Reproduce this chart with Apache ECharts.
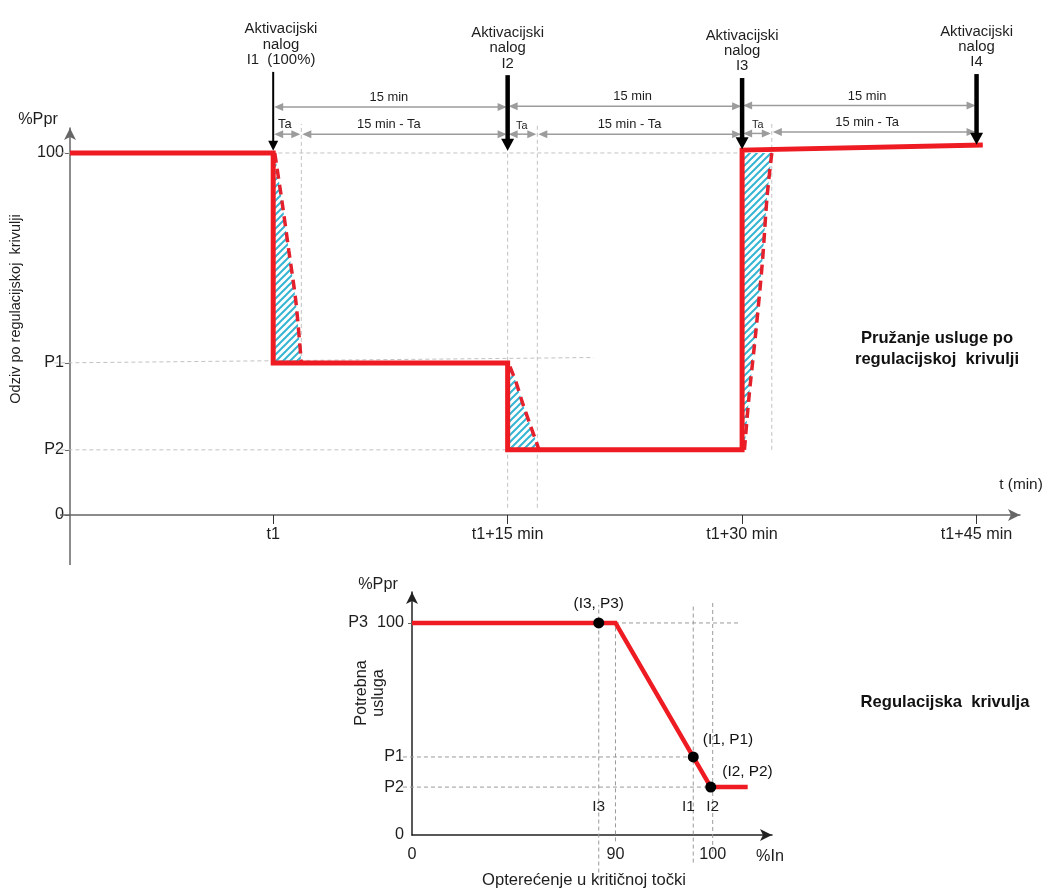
<!DOCTYPE html>
<html><head><meta charset="utf-8">
<script src="https://cdn.jsdelivr.net/npm/echarts@6/dist/echarts.min.js"></script>
<style>html,body{margin:0;padding:0;background:#fff}#c{width:1047px;height:895px}</style>
</head><body><div id="c"></div><script>
// ---------------- DATA: upper chart (time in minutes after t1) ----------------
const timeTickValues = [0, 15, 30, 45];
const timeTickLabels = ['t1', 't1+15 min', 't1+30 min', 't1+45 min'];
const respTickValues = [0, 18, 42, 100];
const respTickLabels = ['0', 'P2', 'P1', '100'];
const respTime  = [-13, 0, 0, 15, 15, 30, 30, 45.4];
const respValue = [100, 100, 42, 42, 18, 18, 100.8, 102.2];
const ramp1Time  = [0.1, 0.55, 1.0, 1.45, 1.8];
const ramp1Value = [100, 87, 73, 59, 42];
const ramp2Time  = [15.15, 15.55, 15.95, 16.4, 16.85, 17.0];
const ramp2Value = [41, 36.5, 31, 25.4, 20, 18];
const ramp3Time  = [30.15, 30.45, 30.9, 31.3, 31.6, 31.9];
const ramp3Value = [18, 33, 51.5, 70, 88, 100];
const stepTime = [0, 15, 30];
const stepFrom = [100, 42, 18];
const stepTo   = [42, 18, 100];
const orderTime  = [0, 15, 30, 45];
const orderTop   = [122.4, 121.5, 120.7, 121.8];
const orderTip   = [100.6, 100.6, 101, 102.3];
const orderLabelTime = [0.5, 15, 30, 45];
const orderLabels = ['Aktivacijski\nnalog\nI1  (100%)', 'Aktivacijski\nnalog\nI2', 'Aktivacijski\nnalog\nI3', 'Aktivacijski\nnalog\nI4'];
const dimStart = [0, 15, 30, 0, 1.8, 15, 16.9, 30, 31.9];
const dimEnd   = [15, 30, 45, 1.8, 15, 16.9, 30, 31.9, 45];
const dimLevel = [112.7, 112.9, 113.1, 105.2, 105.2, 105.2, 105.2, 105.4, 105.8];
const dimLabelTime = [7.4, 23.0, 38.0, 0.75, 7.4, 15.9, 22.8, 31.0, 38.0];
const dimLabels = ['15 min', '15 min', '15 min', 'Ta', '15 min - Ta', 'Ta', '15 min - Ta', 'Ta', '15 min - Ta'];
const topGuideX1 = [-14, -14, -14, 1.8, 15, 16.9, 31.9];
const topGuideY1 = [100, 42, 18, 42, 2, 2, 18];
const topGuideX2 = [30, 20.5, 15, 1.8, 15, 16.9, 31.9];
const topGuideY2 = [100, 43.5, 18, 108, 108, 108, 108];
// axis-line extensions of the upper chart (below / left of the origin)
const axisExtX1 = [-13, -13.64];
const axisExtY1 = [0, 0];
const axisExtX2 = [-13, -13];
const axisExtY2 = [-13.8, 0];

// ---------------- DATA: lower chart (regulation curve) ----------------
const loadTickValues = [0, 90, 100];
const loadTickLabels = ['0', '90', '100'];
const reqTickValues = [0, 22.6, 36.8, 100];
const reqTickLabels = ['0', 'P2', 'P1', 'P3  100'];
const curveLoad = [0, 90, 99.8, 103.6];
const curveReq  = [100, 100, 22.6, 22.6];
const pointLoad = [82.6, 98.0, 99.8];
const pointReq  = [100, 36.8, 22.6];
const pointLabels = ['(I3, P3)', '(I1, P1)', '(I2, P2)'];
const pointTickLoad = [82.6, 97.5, 100];
const pointTickLabels = ['I3', 'I1', 'I2'];
const botGuideX1 = [0, -4, -4, 82.6, 90, 98, 100];
const botGuideY1 = [100, 36.8, 22.6, -21, -3, -13, -8];
const botGuideX2 = [102.7, 98, 99.8, 82.6, 90, 98, 100];
const botGuideY2 = [100, 36.8, 22.6, 108.5, 100, 109, 110];

// axis scale of the lower chart: range 0..90 is drawn compressed
const LOAD_BREAK = 90, LOW_SCALE = 20.93 / 90;
function loadPos(v) { return v <= LOAD_BREAK ? v * LOW_SCALE : LOAD_BREAK * LOW_SCALE + (v - LOAD_BREAK); }

// ---------------- fonts ----------------
function fontAvailable(name) {
  const ctx = document.createElement('canvas').getContext('2d');
  const s = 'Aktivacijski nalog 0123';
  ctx.font = '40px monospace'; const a = ctx.measureText(s).width;
  ctx.font = '40px ' + name + ', monospace'; const b = ctx.measureText(s).width;
  return Math.abs(a - b) > 1;
}
const NARROW = fontAvailable("'Liberation Sans Narrow'");
const FAMILY = NARROW ? "'Liberation Sans Narrow', 'Liberation Sans', sans-serif" : "'Liberation Sans', Arial, sans-serif";
const K = NARROW ? 1 : 0.83;
const fs = n => Math.round(n * K * 10) / 10;
const TXT = '#1e1e1e';
const font = (n, bold) => (bold ? 'bold ' : '') + fs(n) + 'px ' + FAMILY;

// ---------------- helpers ----------------
const zip = (a, b) => a.map((v, i) => [v, b[i]]);
const lookup = (vals, labels) => v => { const i = vals.findIndex(x => Math.abs(x - v) < 1e-6); return i < 0 ? '' : labels[i]; };
function makeHatch() {
  const c = document.createElement('canvas'); c.width = 7; c.height = 7;
  const g = c.getContext('2d');
  g.strokeStyle = '#35b5d2'; g.lineWidth = 2;
  g.beginPath();
  g.moveTo(-1, 8); g.lineTo(8, -1);
  g.moveTo(-1, 1); g.lineTo(1, -1);
  g.moveTo(6, 8); g.lineTo(8, 6);
  g.stroke();
  return c;
}
const hatch = makeHatch();
function segRenderer(color, width, dash) {
  return (params, api) => {
    const a = api.coord([api.value(0), api.value(1)]);
    const b = api.coord([api.value(2), api.value(3)]);
    return { type: 'line', shape: { x1: a[0], y1: a[1], x2: b[0], y2: b[1] },
      style: { stroke: color, lineWidth: width, lineDash: dash } };
  };
}
const ramps = [zip(ramp1Time, ramp1Value), zip(ramp2Time, ramp2Value), zip(ramp3Time, ramp3Value)];

const RED = '#ee1b22';
const series = [];
// axis extensions
series.push({ type: 'custom', xAxisIndex: 0, yAxisIndex: 0, z: 1, silent: true,
  data: axisExtX1.map((x, i) => [x, axisExtY1[i], axisExtX2[i], axisExtY2[i]]),
  renderItem: segRenderer('#666', 1.5, null) });
// upper guides
series.push({ type: 'custom', xAxisIndex: 0, yAxisIndex: 0, z: 1, silent: true,
  data: topGuideX1.map((x, i) => [x, topGuideY1[i], topGuideX2[i], topGuideY2[i]]),
  renderItem: segRenderer('#c2c2c2', 1, [4, 3]) });
// hatched areas
series.push({ type: 'custom', xAxisIndex: 0, yAxisIndex: 0, z: 2, silent: true,
  data: stepTime.map((t, i) => [t, stepFrom[i], stepTo[i]]),
  renderItem: (params, api) => {
    const i = params.dataIndex;
    const pts = [[api.value(0), api.value(1)]].concat(ramps[i]).concat([[api.value(0), api.value(2)]]);
    return { type: 'polygon', shape: { points: pts.map(p => api.coord(p)) },
      style: { fill: { image: hatch, repeat: 'repeat' } } };
  } });
// dashed ramps
ramps.forEach(r => series.push({ type: 'line', xAxisIndex: 0, yAxisIndex: 0, z: 3, data: r, symbol: 'none', smooth: 0.3,
  lineStyle: { color: '#e3202c', width: 3.5, type: [10, 6] } }));
// response
series.push({ type: 'line', xAxisIndex: 0, yAxisIndex: 0, z: 4, data: zip(respTime, respValue), symbol: 'none',
  lineStyle: { color: RED, width: 5, join: 'miter' } });
// dimension arrows
series.push({ type: 'custom', xAxisIndex: 0, yAxisIndex: 0, z: 5, silent: true,
  data: dimStart.map((s, i) => [s, dimEnd[i], dimLevel[i], dimLabelTime[i]]),
  renderItem: (params, api) => {
    const i = params.dataIndex;
    const a = api.coord([api.value(0), api.value(2)]);
    const b = api.coord([api.value(1), api.value(2)]);
    const lx = api.coord([api.value(3), api.value(2)])[0];
    const h = 9, w = 4, col = '#9c9c9c';
    const small = dimLabels[i] === 'Ta' && i > 3;
    return { type: 'group', children: [
      { type: 'line', shape: { x1: a[0] + 3, y1: a[1], x2: b[0] - 3, y2: b[1] }, style: { stroke: col, lineWidth: 1.5 } },
      { type: 'polygon', shape: { points: [[a[0] + 1, a[1]], [a[0] + 1 + h, a[1] - w], [a[0] + 1 + h, a[1] + w]] }, style: { fill: col } },
      { type: 'polygon', shape: { points: [[b[0] - 1, b[1]], [b[0] - 1 - h, b[1] - w], [b[0] - 1 - h, b[1] + w]] }, style: { fill: col } },
      { type: 'text', x: lx, y: a[1] - 3, style: { text: dimLabels[i], fill: TXT, font: font(small ? 13 : 15.5), align: 'center', verticalAlign: 'bottom' } }
    ] };
  } });
// activation orders
series.push({ type: 'custom', xAxisIndex: 0, yAxisIndex: 0, z: 6, silent: true,
  data: orderTime.map((t, i) => [t, orderTop[i], orderTip[i], orderLabelTime[i]]),
  renderItem: (params, api) => {
    const i = params.dataIndex;
    const top = api.coord([api.value(0), api.value(1)]);
    const tip = api.coord([api.value(0), api.value(2)]);
    const lx = api.coord([api.value(3), api.value(1)])[0];
    const thin = i === 0;
    const hl = thin ? 10 : 12, hw = thin ? 5 : 6.5;
    return { type: 'group', children: [
      { type: 'line', shape: { x1: top[0], y1: top[1], x2: tip[0], y2: tip[1] - hl + 1 }, style: { stroke: '#000', lineWidth: thin ? 2 : 4.5 } },
      { type: 'polygon', shape: { points: [[tip[0], tip[1]], [tip[0] - hw, tip[1] - hl], [tip[0] + hw, tip[1] - hl]] }, style: { fill: '#000' } },
      { type: 'text', x: lx, y: top[1] - 4, style: { text: orderLabels[i], fill: TXT, font: font(18), lineHeight: fs(18.5), align: 'center', verticalAlign: 'bottom' } }
    ] };
  } });

// lower guides
series.push({ type: 'custom', xAxisIndex: 1, yAxisIndex: 1, z: 1, silent: true,
  data: botGuideX1.map((x, i) => [loadPos(x), botGuideY1[i], loadPos(botGuideX2[i]), botGuideY2[i]]),
  renderItem: segRenderer('#9a9a9a', 1, [4, 3]) });
series.push({ type: 'line', xAxisIndex: 1, yAxisIndex: 1, z: 4, data: curveLoad.map((v, i) => [loadPos(v), curveReq[i]]), symbol: 'none',
  lineStyle: { color: RED, width: 4.5, join: 'miter' } });
const pointLabelCfg = [
  { position: 'top', distance: 6 },
  { position: 'right', distance: 4, offset: [0, -17] },
  { position: 'right', distance: 6, offset: [0, -15] }
];
series.push({ type: 'scatter', xAxisIndex: 1, yAxisIndex: 1, z: 6, symbolSize: 11,
  itemStyle: { color: '#000', opacity: 1 },
  data: pointLoad.map((v, i) => ({ value: [loadPos(v), pointReq[i]],
    label: Object.assign({ show: true, formatter: pointLabels[i], color: '#111', opacity: 1, fontFamily: FAMILY, fontSize: fs(18.5) }, pointLabelCfg[i]) })) });
series.push({ type: 'custom', xAxisIndex: 1, yAxisIndex: 1, z: 5, silent: true,
  data: pointTickLoad.map(v => [loadPos(v), 13.2]),
  renderItem: (params, api) => {
    const p = api.coord([api.value(0), api.value(1)]);
    return { type: 'text', x: p[0], y: p[1], style: { text: pointTickLabels[params.dataIndex], fill: TXT, font: font(18.5), align: 'center', verticalAlign: 'middle' } };
  } });

const axisText = { color: TXT, fontFamily: FAMILY, fontSize: fs(19.5) };
const chart = echarts.init(document.getElementById('c'), null, { renderer: 'canvas' });
chart.setOption({
  animation: false,
  backgroundColor: '#fff',
  grid: [
    { left: 70, right: 27, top: 128, bottom: 380 },
    { left: 412, right: 275, top: 592, bottom: 60 }
  ],
  xAxis: [
    { gridIndex: 0, type: 'value', min: -13, max: 47.78, splitLine: { show: false },
      axisLine: { show: true, onZero: false, symbol: ['none', 'arrow'], symbolSize: [9, 12], lineStyle: { color: '#666', width: 1.5 } },
      axisTick: { show: true, customValues: timeTickValues, length: 9, lineStyle: { color: '#333' } },
      axisLabel: Object.assign({ customValues: timeTickValues, formatter: lookup(timeTickValues, timeTickLabels), margin: 12 }, axisText) },
    { gridIndex: 1, type: 'value', min: 0, max: loadPos(106.1), splitLine: { show: false },
      axisLine: { show: true, onZero: false, symbol: ['none', 'arrow'], symbolSize: [9, 12], lineStyle: { color: '#222', width: 1.5 } },
      axisTick: { show: false },
      axisLabel: Object.assign({ customValues: loadTickValues.map(loadPos), formatter: lookup(loadTickValues.map(loadPos), loadTickLabels), margin: 12 }, axisText) }
  ],
  yAxis: [
    { gridIndex: 0, type: 'value', min: 0, max: 106.9, splitLine: { show: false },
      axisLine: { show: true, onZero: false, symbol: ['none', 'arrow'], symbolSize: [9, 12], lineStyle: { color: '#666', width: 1.5 } },
      axisTick: { show: true, customValues: respTickValues, length: 5, lineStyle: { color: '#666' } },
      axisLabel: Object.assign({ customValues: respTickValues, formatter: lookup(respTickValues, respTickLabels), margin: 6 }, axisText) },
    { gridIndex: 1, type: 'value', min: 0, max: 114.6, splitLine: { show: false },
      axisLine: { show: true, onZero: false, symbol: ['none', 'arrow'], symbolSize: [9, 12], lineStyle: { color: '#222', width: 1.5 } },
      axisTick: { show: true, customValues: [100], length: 4, lineStyle: { color: '#666' } },
      axisLabel: Object.assign({ customValues: reqTickValues, formatter: lookup(reqTickValues, reqTickLabels), margin: 8 }, axisText) }
  ],
  graphic: [
    { type: 'text', x: 38, y: 120, style: { text: '%Ppr', font: font(19.5), fill: TXT, align: 'center', verticalAlign: 'middle' } },
    { type: 'text', x: 16, y: 309, rotation: Math.PI / 2, style: { text: 'Odziv po regulacijskoj  krivulji', font: font(17.5), fill: TXT, align: 'center', verticalAlign: 'middle' } },
    { type: 'text', x: 1021, y: 485, style: { text: 't (min)', font: font(18.5), fill: TXT, align: 'center', verticalAlign: 'middle' } },
    { type: 'text', x: 937, y: 349, style: { text: 'Pružanje usluge po\nregulacijskoj  krivulji', font: font(20, true), lineHeight: fs(25), fill: '#111', align: 'center', verticalAlign: 'middle' } },
    { type: 'text', x: 945, y: 702, style: { text: 'Regulacijska  krivulja', font: font(20, true), fill: '#111', align: 'center', verticalAlign: 'middle' } },
    { type: 'text', x: 378, y: 585, style: { text: '%Ppr', font: font(19.5), fill: TXT, align: 'center', verticalAlign: 'middle' } },
    { type: 'text', x: 370, y: 693, rotation: Math.PI / 2, style: { text: 'Potrebna\nusluga', font: font(19.5), lineHeight: fs(19.5), fill: TXT, align: 'center', verticalAlign: 'middle' } },
    { type: 'text', x: 770, y: 857, style: { text: '%In', font: font(19.5), fill: TXT, align: 'center', verticalAlign: 'middle' } },
    { type: 'text', x: 584, y: 880, style: { text: 'Opterećenje u kritičnoj točki', font: font(20), fill: TXT, align: 'center', verticalAlign: 'middle' } }
  ],
  series: series
});
</script></body></html>
